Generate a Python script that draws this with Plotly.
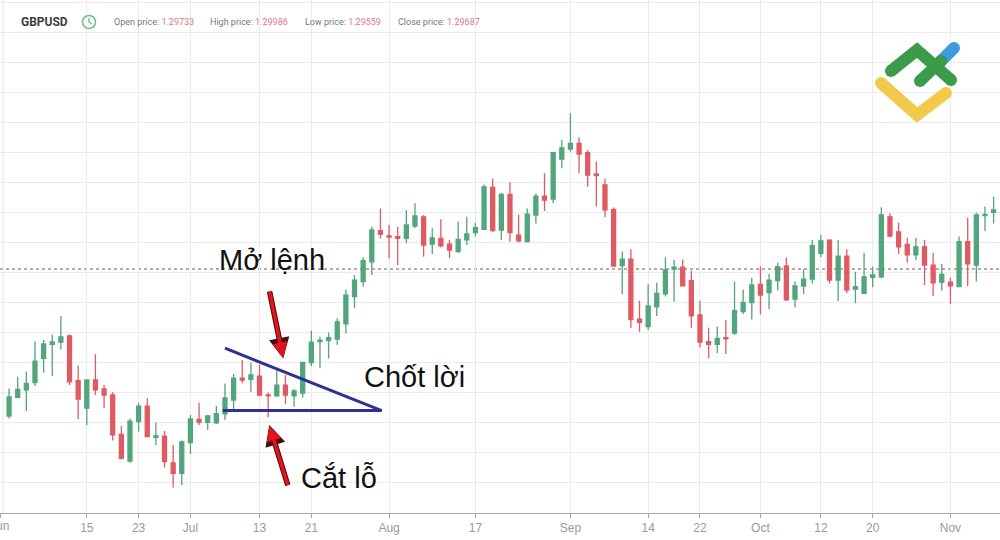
import plotly.graph_objects as go

# ---------------- data (GBPUSD daily) ----------------
opens = [1.2420, 1.2482, 1.2507, 1.2531, 1.2612, 1.2659, 1.2666, 1.2687, 1.2538, 1.2446,
         1.2540, 1.2510, 1.2490, 1.2359, 1.2270, 1.2401, 1.2453, 1.2349, 1.2353, 1.2264,
         1.2229, 1.2331, 1.2409, 1.2399, 1.2397, 1.2427, 1.2473, 1.2546, 1.2542, 1.2553,
         1.2490, 1.2487, 1.2523, 1.2487, 1.2496, 1.2598, 1.2668, 1.2671, 1.2676, 1.2727,
         1.2818, 1.2868, 1.2934, 1.3038, 1.3020, 1.3018, 1.3012, 1.3053, 1.3084, 1.2993,
         1.3012, 1.2993, 1.2968, 1.3007, 1.3031, 1.3042, 1.3182, 1.3040, 1.3159, 1.3023,
         1.3001, 1.3090, 1.3153, 1.3143, 1.3276, 1.3310, 1.3329, 1.3298, 1.3227, 1.3190,
         1.3108, 1.2921, 1.2943, 1.2743, 1.2718, 1.2784, 1.2827, 1.2910, 1.2916, 1.2871,
         1.2757, 1.2668, 1.2659, 1.2681, 1.2696, 1.2768, 1.2798, 1.2859, 1.2831, 1.2871,
         1.2920, 1.2810, 1.2853, 1.2876, 1.2962, 1.3006, 1.2873, 1.2953, 1.2843, 1.2829,
         1.2882, 1.2884, 1.3084, 1.3034, 1.2992, 1.2957, 1.2984, 1.2923, 1.2866, 1.2866,
         1.2851, 1.3001, 1.2923, 1.3088, 1.3099]
highs = [1.2512, 1.2551, 1.2568, 1.2668, 1.2673, 1.2692, 1.2753, 1.2692, 1.2588, 1.2541,
         1.2626, 1.2523, 1.2499, 1.2387, 1.2412, 1.2464, 1.2479, 1.2398, 1.2370, 1.2323,
         1.2338, 1.2423, 1.2464, 1.2423, 1.2453, 1.2528, 1.2560, 1.2607, 1.2598, 1.2592,
         1.2498, 1.2573, 1.2557, 1.2509, 1.2601, 1.2704, 1.2684, 1.2698, 1.2746, 1.2842,
         1.2890, 1.2949, 1.3051, 1.3112, 1.3057, 1.3051, 1.3107, 1.3129, 1.3090, 1.3046,
         1.3076, 1.3007, 1.3068, 1.3084, 1.3064, 1.3192, 1.3212, 1.3164, 1.3199, 1.3092,
         1.3112, 1.3162, 1.3229, 1.3301, 1.3340, 1.3429, 1.3349, 1.3307, 1.3268, 1.3211,
         1.3115, 1.2968, 1.2976, 1.2804, 1.2859, 1.2864, 1.2949, 1.2940, 1.2942, 1.2904,
         1.2804, 1.2714, 1.2718, 1.2740, 1.2868, 1.2842, 1.2881, 1.2918, 1.2893, 1.2931,
         1.2948, 1.2868, 1.2909, 1.3007, 1.3023, 1.3009, 1.3007, 1.2976, 1.2901, 1.2964,
         1.2918, 1.3116, 1.3096, 1.3064, 1.3014, 1.3014, 1.3007, 1.2964, 1.2927, 1.2882,
         1.3018, 1.3081, 1.3098, 1.3118, 1.3151]
lows = [1.2412, 1.2479, 1.2437, 1.2520, 1.2564, 1.2553, 1.2642, 1.2523, 1.2409, 1.2390,
        1.2490, 1.2446, 1.2338, 1.2276, 1.2264, 1.2368, 1.2349, 1.2323, 1.2248, 1.2182,
        1.2190, 1.2293, 1.2390, 1.2373, 1.2393, 1.2407, 1.2440, 1.2529, 1.2501, 1.2487,
        1.2416, 1.2484, 1.2460, 1.2451, 1.2482, 1.2587, 1.2579, 1.2612, 1.2657, 1.2696,
        1.2779, 1.2851, 1.2890, 1.3012, 1.2946, 1.2923, 1.2996, 1.3047, 1.2951, 1.2960,
        1.2982, 1.2946, 1.2964, 1.2990, 1.3018, 1.3040, 1.3034, 1.3007, 1.3001, 1.2998,
        1.2998, 1.3062, 1.3103, 1.3129, 1.3246, 1.3301, 1.3229, 1.3184, 1.3118, 1.3083,
        1.2918, 1.2827, 1.2713, 1.2701, 1.2707, 1.2753, 1.2818, 1.2801, 1.2853, 1.2714,
        1.2649, 1.2612, 1.2629, 1.2627, 1.2690, 1.2760, 1.2742, 1.2759, 1.2776, 1.2838,
        1.2804, 1.2782, 1.2827, 1.2862, 1.2949, 1.2862, 1.2803, 1.2829, 1.2796, 1.2827,
        1.2849, 1.2879, 1.3016, 1.2960, 1.2932, 1.2940, 1.2857, 1.2820, 1.2838, 1.2793,
        1.2850, 1.2853, 1.2868, 1.3037, 1.3062]
closes = [1.2484, 1.2509, 1.2529, 1.2603, 1.2660, 1.2667, 1.2684, 1.2534, 1.2476, 1.2540,
          1.2507, 1.2490, 1.2357, 1.2279, 1.2403, 1.2453, 1.2351, 1.2354, 1.2268, 1.2229,
          1.2334, 1.2410, 1.2399, 1.2420, 1.2428, 1.2480, 1.2546, 1.2540, 1.2557, 1.2490,
          1.2487, 1.2523, 1.2490, 1.2504, 1.2599, 1.2666, 1.2673, 1.2681, 1.2734, 1.2823,
          1.2873, 1.2938, 1.3040, 1.3026, 1.3016, 1.3012, 1.3057, 1.3087, 1.2990, 1.3014,
          1.2987, 1.2973, 1.3009, 1.3027, 1.3048, 1.3184, 1.3038, 1.3159, 1.3031, 1.3004,
          1.3093, 1.3153, 1.3140, 1.3298, 1.3314, 1.3329, 1.3293, 1.3223, 1.3221, 1.3107,
          1.2920, 1.2943, 1.2741, 1.2732, 1.2787, 1.2829, 1.2907, 1.2916, 1.2854, 1.2754,
          1.2666, 1.2659, 1.2679, 1.2677, 1.2771, 1.2799, 1.2857, 1.2823, 1.2873, 1.2918,
          1.2807, 1.2854, 1.2876, 1.2988, 1.3004, 1.2873, 1.2953, 1.2840, 1.2851, 1.2884,
          1.2890, 1.3090, 1.3020, 1.2984, 1.2957, 1.2984, 1.2923, 1.2864, 1.2892, 1.2854,
          1.3001, 1.2927, 1.3090, 1.3092, 1.3107]
bar_index = list(range(len(opens)))

tick_positions = [-1, 9, 15, 21, 29, 35, 44, 54, 65, 74, 80, 87, 94, 100, 109]
tick_labels = ["Jun", "15", "23", "Jul", "13", "21", "Aug", "17", "Sep", "14", "22",
               "Oct", "12", "20", "Nov"]

current_price = 1.2910

# triangle pattern (data coordinates: bar index, price)
upper_line_x = [25.0, 43.15]
upper_line_y = [1.2646, 1.2438]
lower_line_x = [24.74, 43.15]
lower_line_y = [1.2438, 1.2438]

header_symbol = "GBPUSD"
header_labels = ["Open price:", "High price:", "Low price:", "Close price:"]
header_values = ["1.29733", "1.29986", "1.29559", "1.29687"]

GREEN = "#52a57c"
RED = "#e05a63"
NAVY = "#2e3192"
ARROW_RED = "#e3141e"

fig = go.Figure()

fig.add_trace(go.Candlestick(
    x=bar_index, open=opens, high=highs, low=lows, close=closes,
    increasing=dict(line=dict(color=GREEN, width=1.3), fillcolor=GREEN),
    decreasing=dict(line=dict(color=RED, width=1.3), fillcolor=RED),
    whiskerwidth=0, showlegend=False, hoverinfo="skip"))

for lx, ly in ((upper_line_x, upper_line_y), (lower_line_x, lower_line_y)):
    fig.add_trace(go.Scatter(x=lx, y=ly, mode="lines",
                             line=dict(color=NAVY, width=3),
                             showlegend=False, hoverinfo="skip"))

shapes = []
annotations = []

# current price dotted line
shapes.append(dict(type="line", xref="paper", x0=0, x1=1, yref="y",
                   y0=current_price, y1=current_price,
                   line=dict(color="#8a4a4a", width=1, dash="dot"), layer="below"))

# ---- decoration helpers (pixel -> paper) ----
PLOT_H = 513.0


def px(x):
    return x / 1000.0


def py(y):
    return 1 - y / PLOT_H


def stroke(points, color, width):
    d = "M " + " L ".join(f"{px(x):.5f},{py(y):.5f}" for x, y in points)
    shapes.append(dict(type="path", xref="paper", yref="paper", path=d,
                       line=dict(color=color, width=width)))
    r = width / 2.0
    for x, y in (points[0], points[-1]):
        shapes.append(dict(type="circle", xref="paper", yref="paper",
                           x0=px(x - r), x1=px(x + r), y0=py(y + r), y1=py(y - r),
                           fillcolor=color, line=dict(width=0)))


# logo
stroke([(881, 83), (917, 115), (946, 93)], "#f2c94a", 12)
stroke([(941, 61), (954, 48)], "#3d9be0", 12)
stroke([(891, 71), (917, 50), (951, 80)], "#3c9a4b", 12)
stroke([(920, 81), (941, 61)], "#3c9a4b", 12)

# left border line
shapes.append(dict(type="line", xref="paper", yref="paper", x0=px(3), x1=px(3),
                   y0=0, y1=1, line=dict(color="#e6e6e6", width=1), layer="below"))

# clock icon
shapes.append(dict(type="circle", xref="paper", yref="paper",
                   x0=px(82.5), x1=px(95.5), y0=py(28.5), y1=py(15.5),
                   line=dict(color="#6fbf92", width=1.6)))
shapes.append(dict(type="path", xref="paper", yref="paper",
                   path=f"M {px(89):.5f},{py(18):.5f} L {px(89):.5f},{py(22):.5f} L {px(92):.5f},{py(24):.5f}",
                   line=dict(color="#6fbf92", width=1.4)))

# header text
annotations.append(dict(xref="paper", yref="paper", x=px(19), y=py(22),
                        xanchor="left", yanchor="middle", showarrow=False,
                        text=f"<b>{header_symbol}</b>",
                        font=dict(family="Roboto", size=12, color="#3c3c3c")))
label_x = [112, 208, 303, 396]
for lab, val, lxp in zip(header_labels, header_values, label_x):
    annotations.append(dict(xref="paper", yref="paper", x=px(lxp), y=py(22),
                            xanchor="left", yanchor="middle", showarrow=False,
                            text=f"{lab} <span style='color:#e07580'>{val}</span>",
                            font=dict(family="Roboto", size=9, color="#777777")))

# partially visible first month label at the left edge
annotations.append(dict(xref="paper", yref="paper", x=px(-1), y=py(526),
                        xanchor="center", yanchor="middle", showarrow=False,
                        text=tick_labels[0],
                        font=dict(family="Liberation Sans", size=12, color="#9a9a9a")))

# arrows (head, tail in data coords)
arrows = [((31.75, 1.2612), (30.13, 1.2840)),
          ((30.13, 1.2390), (32.33, 1.2184))]
for (hx, hy), (tx, ty) in arrows:
    annotations.append(dict(x=hx, y=hy, ax=tx, ay=ty, xref="x", yref="y",
                            axref="x", ayref="y", text="", showarrow=True,
                            arrowhead=2, arrowsize=0.75, arrowwidth=5.5,
                            arrowcolor="#4a0d0d", standoff=0))
    annotations.append(dict(x=hx, y=hy, ax=tx, ay=ty, xref="x", yref="y",
                            axref="x", ayref="y", text="", showarrow=True,
                            arrowhead=2, arrowsize=0.85, arrowwidth=3.5,
                            arrowcolor=ARROW_RED, standoff=1))

# labels
labels = [("Mở lệnh", 30.39, 1.2940), ("Chốt lời", 47.0, 1.2550), ("Cắt lỗ", 38.2, 1.2213)]
for txt, lx_, ly_ in labels:
    annotations.append(dict(x=lx_, y=ly_, xref="x", yref="y", text=txt,
                            showarrow=False, xanchor="center", yanchor="middle",
                            font=dict(family="Liberation Sans", size=29, color="#111111")))

fig.update_layout(
    width=1000, height=540,
    margin=dict(l=0, r=0, t=0, b=27),
    paper_bgcolor="white", plot_bgcolor="white",
    boxgap=0.34,
    shapes=shapes, annotations=annotations,
    xaxis=dict(range=[-1.05, 114.74], tickmode="array", tickvals=tick_positions,
               ticktext=tick_labels, showgrid=True, gridcolor="#ececec", gridwidth=1,
               showline=True, linecolor="#a9a9a9", linewidth=1,
               ticks="outside", ticklen=4, tickcolor="#a9a9a9",
               tickfont=dict(family="Liberation Sans", size=12, color="#9a9a9a"),
               zeroline=False, rangeslider=dict(visible=False), fixedrange=True),
    yaxis=dict(range=[1.20967, 1.38067], tick0=1.0, dtick=0.01, showticklabels=False,
               showgrid=True, gridcolor="#ececec", gridwidth=1, zeroline=False,
               ticks="", showline=False, fixedrange=True),
)

fig.write_html("out.html")
